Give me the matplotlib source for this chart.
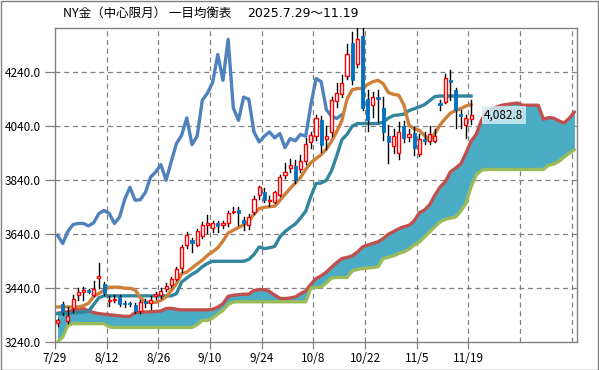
import matplotlib
matplotlib.use('Agg')
import matplotlib.pyplot as plt
from matplotlib.patches import Rectangle
import numpy as np

plt.rcParams['font.family'] = ['Noto Sans CJK JP', 'DejaVu Sans']

# daily candles 7/29 .. 11/19
opens = [3310, 3381, 3320, 3366, 3414, 3428, 3433, 3414, 3477, 3455,
         3392, 3396, 3407, 3385, 3384, 3377, 3355, 3392, 3385, 3410,
         3414, 3439, 3451, 3476, 3515, 3599, 3618, 3602, 3634, 3673,
         3663, 3680, 3673, 3680, 3722, 3729, 3692, 3673, 3723, 3784,
         3796, 3763, 3761, 3784, 3861, 3886, 3892, 3881, 3910, 3982,
         4004, 4062, 3992, 4019, 4133, 4161, 4226, 4350, 4272, 4373,
         4140, 4118, 4148, 4106, 4003, 3966, 3941, 4040, 4000, 4015,
         3939, 3992, 3986, 3986, 4126, 4130, 4212, 4176, 4084, 4046,
         4067]
highs = [3328, 3388, 3370, 3414, 3440, 3444, 3438, 3466, 3533, 3462,
         3410, 3415, 3415, 3392, 3390, 3385, 3395, 3400, 3410, 3425,
         3440, 3460, 3480, 3520, 3602, 3647, 3625, 3660, 3685, 3713,
         3690, 3690, 3690, 3728, 3740, 3741, 3704, 3715, 3780, 3820,
         3810, 3780, 3800, 3860, 3903, 3920, 3915, 3935, 3995, 4020,
         4083, 4078, 4040, 4148, 4200, 4230, 4346, 4389, 4420, 4420,
         4173, 4167, 4173, 4150, 4044, 4030, 4056, 4060, 4030, 4038,
         4010, 4020, 4040, 4030, 4136, 4235, 4250, 4180, 4099, 4081,
         4136]
lows = [3300, 3340, 3312, 3351, 3395, 3395, 3422, 3410, 3440, 3415,
        3375, 3388, 3375, 3372, 3376, 3350, 3350, 3370, 3365, 3400,
        3405, 3430, 3445, 3470, 3500, 3590, 3573, 3595, 3625, 3643,
        3650, 3650, 3665, 3670, 3718, 3673, 3655, 3660, 3715, 3770,
        3760, 3745, 3755, 3780, 3847, 3870, 3830, 3870, 3900, 3960,
        3990, 3945, 3955, 4005, 4110, 4150, 4215, 4198, 4260, 4100,
        4022, 4075, 4056, 3990, 3903, 3940, 3920, 3980, 3985, 3933,
        3930, 3975, 3975, 3980, 4099, 4125, 4136, 4032, 4032, 3995,
        4050]
closes = [3322, 3352, 3336, 3399, 3425, 3433, 3426, 3436, 3484, 3421,
          3396, 3402, 3380, 3380, 3380, 3355, 3388, 3384, 3395, 3418,
          3430, 3448, 3473, 3513, 3593, 3636, 3606, 3651, 3676, 3680,
          3680, 3671, 3683, 3717, 3728, 3717, 3680, 3704, 3770, 3814,
          3766, 3768, 3795, 3852, 3871, 3898, 3840, 3910, 3976, 4007,
          4071, 3972, 4003, 4136, 4163, 4202, 4306, 4210, 4362, 4108,
          4062, 4148, 4140, 4019, 3982, 4003, 4019, 3997, 4013, 3961,
          3994, 3986, 4010, 4003, 4118, 4217, 4205, 4102, 4077, 4069,
          4082.8]

# 転換線
tenkan = [3371, 3371, 3371, 3371, 3371, 3375, 3385, 3410, 3421, 3432,
          3444, 3444, 3444, 3440, 3440, 3435, 3405, 3388, 3388, 3388,
          3395, 3408, 3432, 3457, 3494, 3500, 3515, 3530, 3544, 3562,
          3575, 3590, 3615, 3645, 3655, 3665, 3675, 3688, 3715, 3735,
          3740, 3742, 3744, 3765, 3788, 3810, 3830, 3850, 3880, 3905,
          3920, 3935, 3955, 3985, 4020, 4060, 4140, 4175, 4180, 4180,
          4195, 4205, 4210, 4198, 4165, 4158, 4155, 4120, 4044, 4031,
          4025, 4005, 3985, 4015, 4045, 4068, 4088, 4099, 4105, 4115,
          4120]
# 基準線
kijun = [3346, 3346, 3346, 3348, 3350, 3352, 3355, 3380, 3405, 3412,
         3412, 3412, 3412, 3412, 3412, 3412, 3412, 3412, 3412, 3412,
         3412, 3412, 3412, 3420, 3463, 3478, 3492, 3503, 3520, 3532,
         3540, 3540, 3540, 3540, 3540, 3540, 3540, 3547, 3565, 3593,
         3587, 3590, 3595, 3630, 3650, 3665, 3678, 3700, 3725, 3780,
         3828, 3830, 3840, 3875, 3930, 3990, 4010, 4040, 4050, 4050,
         4050, 4050, 4050, 4055, 4070, 4080, 4082, 4085, 4098, 4105,
         4112, 4120, 4135, 4150, 4152, 4152, 4152, 4152, 4152, 4152,
         4152]
# 先行スパン1
span_a = [3348, 3350, 3354, 3358, 3362, 3365, 3356, 3350, 3346, 3344,
          3342, 3340, 3338, 3336, 3336, 3350, 3352, 3352, 3353, 3354,
          3356, 3365, 3366, 3362, 3360, 3360, 3360, 3360, 3360, 3360,
          3362, 3370, 3383, 3410, 3414, 3416, 3418, 3418, 3432, 3435,
          3435, 3428, 3415, 3403, 3402, 3404, 3408, 3420, 3430, 3455,
          3476, 3486, 3500, 3518, 3535, 3550, 3554, 3560, 3574, 3593,
          3600, 3606, 3612, 3624, 3640, 3650, 3660, 3668, 3673, 3690,
          3720, 3730, 3750, 3785, 3815, 3834, 3871, 3885, 3900, 3940,
          3985, 4010, 4062, 4093, 4105, 4112, 4118, 4121, 4124, 4126,
          4118, 4118, 4118, 4118, 4066, 4072, 4070, 4060, 4052, 4070,
          4093]
# 先行スパン2
span_b = [3241, 3260, 3303, 3309, 3309, 3309, 3309, 3309, 3309, 3309,
          3297, 3295, 3295, 3295, 3295, 3295, 3295, 3295, 3295, 3295,
          3295, 3295, 3295, 3295, 3295, 3295, 3295, 3305, 3321, 3321,
          3330, 3345, 3358, 3380, 3389, 3390, 3390, 3390, 3390, 3390,
          3390, 3390, 3390, 3390, 3390, 3390, 3390, 3390, 3390, 3440,
          3443, 3445, 3460, 3478, 3480, 3480, 3480, 3504, 3510, 3513,
          3515, 3517, 3520, 3550, 3555, 3560, 3569, 3575, 3585, 3600,
          3611, 3630, 3649, 3668, 3686, 3695, 3700, 3704, 3725, 3754,
          3815, 3860, 3877, 3880, 3880, 3880, 3880, 3880, 3880, 3880,
          3880, 3880, 3880, 3880, 3880, 3896, 3900, 3910, 3926, 3940,
          3953]

date_labels = ['7/29', '8/12', '8/26', '9/10', '9/24', '10/8', '10/22', '11/5', '11/19']
y_ticks = [3240, 3440, 3640, 3840, 4040, 4240]
chikou_shift = 25

fig = plt.figure(figsize=(5.99, 3.70), dpi=100)
ax = fig.add_axes([0.0918, 0.0749, 0.8715, 0.8495])

n = len(closes)
x = np.arange(n)
xs = np.arange(len(span_a))

# 雲
ax.fill_between(xs, span_a, span_b, color='#4BACC6', lw=0, zorder=2)
ax.plot(xs, span_a, color='#C0504D', lw=2.4, zorder=3, solid_capstyle='round')
ax.plot(xs, span_b, color='#9BBB59', lw=2.4, zorder=3, solid_capstyle='round')

# 遅行スパン
chikou = closes[chikou_shift:]
ax.plot(np.arange(len(chikou)), chikou, color='#4F81BD', lw=2.4, zorder=4)
ax.plot(x, kijun, color='#31859C', lw=2.4, zorder=4)
ax.plot(x, tenkan, color='#D07F38', lw=2.4, zorder=4)

# ローソク足
w = 0.6
for i in range(n):
    o, h, l, c = opens[i], highs[i], lows[i], closes[i]
    ax.plot([i, i], [l, h], color='black', lw=1.0, zorder=5)
    lo, hi = min(o, c), max(o, c)
    if hi - lo < 4:
        hi = lo + 4
    if c >= o:
        ax.add_patch(Rectangle((i - w / 2, lo), w, hi - lo, facecolor='white',
                               edgecolor='#FF0000', lw=1.0, zorder=6))
    else:
        ax.add_patch(Rectangle((i - w / 2, lo), w, hi - lo, facecolor='#0070C0',
                               edgecolor='#0070C0', lw=0.6, zorder=6))

# 終値ラベル
ax.text(n + 1.5, closes[-1], f'{closes[-1]:,.1f}', fontsize=8.5, va='center', ha='left',
        zorder=8, bbox=dict(boxstyle='square,pad=0.2', facecolor='#D2EBF2',
                            edgecolor='none', alpha=0.85))

ax.set_xlim(-0.5, 100.5)
ax.set_ylim(3240, 4404)

grid_x = np.arange(-0.5, 100, 10)
for gx in grid_x[1:]:
    ax.axvline(gx, color='#808080', lw=0.9, ls=(0, (4, 3)), zorder=1)
for gy in y_ticks[1:]:
    ax.axhline(gy, color='#808080', lw=0.9, ls=(0, (4, 3)), zorder=1)

ax.set_xticks(grid_x[:len(date_labels)])
ax.set_xticklabels(date_labels)
ax.set_yticks(y_ticks)
ax.set_yticklabels([f'{v:.1f}' for v in y_ticks])
ax.tick_params(axis='both', labelsize=8.5, color='#808080', length=5, width=0.9, pad=2)
ax.tick_params(axis='y', length=7, pad=3)
for s in ax.spines.values():
    s.set_color('#808080')
    s.set_linewidth(1.0)

fig.text(63 / 599, 0.963, 'NY金（中心限月） 一目均衡表',
         ha='left', va='center', fontsize=9)
fig.text(247 / 599, 0.963, '2025.7.29～11.19', ha='left', va='center', fontsize=9,
         family=['DejaVu Sans', 'Noto Sans CJK JP'])

fig.patches.append(Rectangle((0.001, 0.001), 0.998, 0.997, transform=fig.transFigure,
                             fill=False, edgecolor='#808080', lw=1.0))

fig.savefig('out.png', dpi=100)
